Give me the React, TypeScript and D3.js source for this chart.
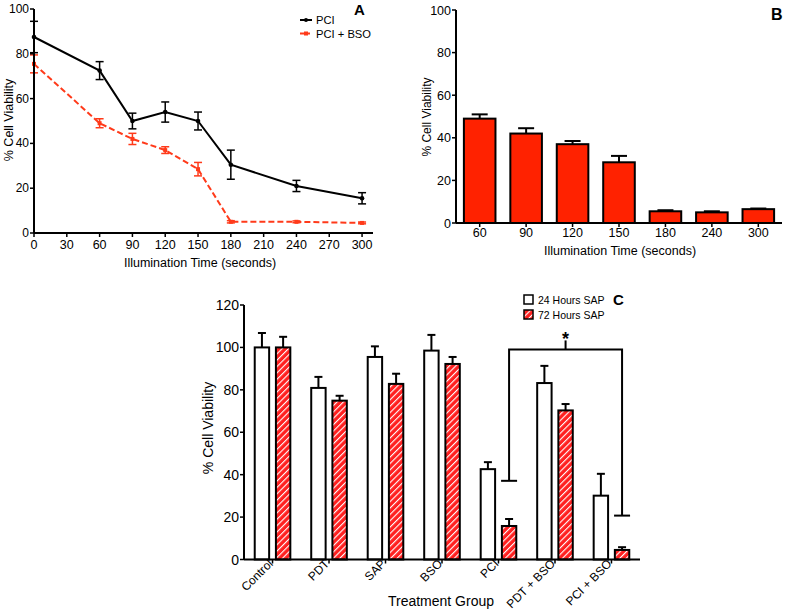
import React from 'react';
import { scaleLinear, scaleBand, line } from 'd3';

// Panel A: viability vs illumination time
const timesA = [0, 60, 90, 120, 150, 180, 240, 300];
const pciMean = [87.5, 72.5, 50, 54, 50, 30.5, 21, 15.5];
const pciErr = [7, 4, 3.5, 4.5, 4, 6.5, 2.5, 2.5];
const bsoMean = [75.5, 49, 42, 37, 28.5, 5, 5, 4.5];
const bsoErr = [4, 2, 2.5, 1.5, 3, 0.5, 0.4, 0.4];
const ticksAx = [0, 30, 60, 90, 120, 150, 180, 210, 240, 270, 300];
const ticksAy = [0, 20, 40, 60, 80, 100];

// Panel B: PCI + BSO bars
const catsB = ['60', '90', '120', '150', '180', '240', '300'];
const valsB = [49, 42, 37, 28.5, 5.5, 5, 6.5];
const errB = [2, 2.5, 1.5, 3, 0.5, 0.5, 0.3];

// Panel C: treatment groups
const groupsC = ['Control', 'PDT', 'SAP', 'BSO', 'PCI', 'PDT + BSO', 'PCI + BSO'];
const h24 = [100, 80.9, 95.5, 98.5, 42.6, 83.2, 30.1];
const h24Err = [6.8, 5.2, 5, 7.4, 3.3, 8.1, 10.3];
const h72 = [100, 74.9, 82.8, 92.2, 15.8, 70.3, 4.5];
const h72Err = [5, 2.3, 4.8, 3.3, 3.3, 3, 1.3];
const ticksCy = [0, 20, 40, 60, 80, 100, 120];
// significance bracket levels (in % units)
const bracketTop = 99;
const bracketLeft = 37.1;
const bracketRight = 20.7;
const bracketMark = 103.3;

const FONT = '"Liberation Sans", Arial, Helvetica, sans-serif';
const RED_A = '#ff3a1a';
const RED_B = '#ff2200';
const RED_C = '#ff2020';

function PanelA() {
  const x = scaleLinear().domain([0, 310]).range([34, 373]);
  const y = scaleLinear().domain([0, 100]).range([233, 9]);
  const mk = line<number>().x((_, i) => x(timesA[i])).y(d => y(d));
  const errBars = (means: number[], errs: number[], color: string) =>
    means.map((m, i) => (
      <g key={i} stroke={color} strokeWidth={1.5}>
        <line x1={x(timesA[i])} x2={x(timesA[i])} y1={y(m - errs[i])} y2={y(m + errs[i])} />
        <line x1={x(timesA[i]) - 4} x2={x(timesA[i]) + 4} y1={y(m + errs[i])} y2={y(m + errs[i])} />
        <line x1={x(timesA[i]) - 4} x2={x(timesA[i]) + 4} y1={y(m - errs[i])} y2={y(m - errs[i])} />
      </g>
    ));
  return (
    <g fontFamily={FONT}>
      <path d={mk(bsoMean) || ''} fill="none" stroke={RED_A} strokeWidth={2} strokeDasharray="6,3" />
      {errBars(bsoMean, bsoErr, RED_A)}
      {bsoMean.map((m, i) => (
        <rect key={i} x={x(timesA[i]) - 2} y={y(m) - 2} width={4} height={4} fill={RED_A} />
      ))}
      <path d={mk(pciMean) || ''} fill="none" stroke="#000" strokeWidth={2} />
      {errBars(pciMean, pciErr, '#000')}
      {pciMean.map((m, i) => (
        <circle key={i} cx={x(timesA[i])} cy={y(m)} r={2.3} fill="#000" />
      ))}
      {/* axes */}
      <line x1={x(0)} x2={x(0)} y1={y(0)} y2={y(100)} stroke="#000" strokeWidth={2} />
      <line x1={x(0)} x2={373} y1={y(0)} y2={y(0)} stroke="#000" strokeWidth={2} />
      {ticksAy.map(t => (
        <g key={t}>
          <line x1={x(0) - 4} x2={x(0)} y1={y(t)} y2={y(t)} stroke="#000" strokeWidth={1.5} />
          <text x={x(0) - 5} y={y(t) + 4} fontSize={12} textAnchor="end">{t}</text>
        </g>
      ))}
      {ticksAx.map(t => (
        <g key={t}>
          <line x1={x(t)} x2={x(t)} y1={y(0)} y2={y(0) + 4} stroke="#000" strokeWidth={1.5} />
          <text x={x(t)} y={249} fontSize={12.5} textAnchor="middle">{t}</text>
        </g>
      ))}
      <text x={200} y={267} fontSize={12.5} textAnchor="middle">Illumination Time (seconds)</text>
      <text transform="translate(13,120) rotate(-90)" fontSize={12.5} textAnchor="middle">% Cell Viability</text>
      {/* legend */}
      <line x1={300} x2={312} y1={20} y2={20} stroke="#000" strokeWidth={2} />
      <circle cx={306} cy={20} r={2} fill="#000" />
      <text x={316} y={24} fontSize={11.2}>PCI</text>
      <line x1={300} x2={312} y1={33.5} y2={33.5} stroke={RED_A} strokeWidth={2} strokeDasharray="4,2" />
      <rect x={304} y={31.5} width={4} height={4} fill={RED_A} />
      <text x={316} y={37.5} fontSize={11.2}>PCI + BSO</text>
      <text x={354} y={15} fontSize={15} fontWeight="bold">A</text>
    </g>
  );
}

function PanelB() {
  const x = scaleBand<string>().domain(catsB).range([456, 782]).paddingInner(0.32).paddingOuter(0.17);
  const y = scaleLinear().domain([0, 100]).range([223, 10]);
  return (
    <g fontFamily={FONT}>
      {catsB.map((c, i) => {
        const cx = (x(c) || 0) + x.bandwidth() / 2;
        return (
          <g key={c}>
            <line x1={cx} x2={cx} y1={y(valsB[i])} y2={y(valsB[i] + errB[i])} stroke="#000" strokeWidth={2} />
            <line x1={cx - 8} x2={cx + 8} y1={y(valsB[i] + errB[i])} y2={y(valsB[i] + errB[i])} stroke="#000" strokeWidth={2} />
            <rect x={x(c)} y={y(valsB[i])} width={x.bandwidth()} height={y(0) - y(valsB[i])}
              fill={RED_B} stroke="#000" strokeWidth={2} />
            <line x1={cx} x2={cx} y1={y(0)} y2={y(0) + 4} stroke="#000" strokeWidth={1.5} />
            <text x={cx} y={237} fontSize={12.5} textAnchor="middle">{c}</text>
          </g>
        );
      })}
      <line x1={456} x2={456} y1={y(0)} y2={y(100)} stroke="#000" strokeWidth={2} />
      <line x1={456} x2={782} y1={y(0)} y2={y(0)} stroke="#000" strokeWidth={2} />
      {ticksAy.map(t => (
        <g key={t}>
          <line x1={452} x2={456} y1={y(t)} y2={y(t)} stroke="#000" strokeWidth={1.5} />
          <text x={451} y={y(t) + 4.5} fontSize={12.5} textAnchor="end">{t}</text>
        </g>
      ))}
      <text x={620} y={255} fontSize={12.5} textAnchor="middle">Illumination Time (seconds)</text>
      <text transform="translate(431,117) rotate(-90)" fontSize={12} textAnchor="middle">% Cell Viability</text>
      <text x={771} y={20} fontSize={16} fontWeight="bold">B</text>
    </g>
  );
}

function PanelC() {
  const x = scaleBand<string>().domain(groupsC).range([244, 640]).paddingInner(0.37).paddingOuter(0.19);
  const sub = scaleBand<string>().domain(['24', '72']).range([0, x.bandwidth()]).paddingInner(0.32);
  const y = scaleLinear().domain([0, 120]).range([559.5, 305]);
  const bar = (g: string, key: string, v: number, e: number, hatched: boolean) => {
    const bx = (x(g) || 0) + (sub(key) || 0);
    const cx = bx + sub.bandwidth() / 2;
    return (
      <g key={g + key}>
        <line x1={cx} x2={cx} y1={y(v)} y2={y(v + e)} stroke="#000" strokeWidth={2} />
        <line x1={cx - 4} x2={cx + 4} y1={y(v + e)} y2={y(v + e)} stroke="#000" strokeWidth={2} />
        <rect x={bx} y={y(v)} width={sub.bandwidth()} height={y(0) - y(v)}
          fill={hatched ? 'url(#hatchC)' : '#fff'} stroke="#000" strokeWidth={2} />
      </g>
    );
  };
  const redCx = (g: string) => (x(g) || 0) + (sub('72') || 0) + sub.bandwidth() / 2;
  const lx = redCx('PCI');
  const rx = redCx('PCI + BSO');
  const mx = (lx + rx) / 2;
  return (
    <g fontFamily={FONT}>
      {groupsC.map((g, i) => (
        <g key={g}>
          {bar(g, '24', h24[i], h24Err[i], false)}
          {bar(g, '72', h72[i], h72Err[i], true)}
        </g>
      ))}
      <line x1={244} x2={244} y1={y(0)} y2={y(120)} stroke="#000" strokeWidth={2} />
      <line x1={244} x2={640} y1={y(0)} y2={y(0)} stroke="#000" strokeWidth={2} />
      {ticksCy.map(t => (
        <g key={t}>
          <line x1={240} x2={244} y1={y(t)} y2={y(t)} stroke="#000" strokeWidth={1.5} />
          <text x={239} y={y(t) + 5} fontSize={14} textAnchor="end">{t}</text>
        </g>
      ))}
      {groupsC.map(g => {
        const cx = (x(g) || 0) + x.bandwidth() / 2;
        return (
          <g key={g}>
            <line x1={cx} x2={cx} y1={y(0)} y2={y(0) + 4} stroke="#000" strokeWidth={1.5} />
            <text transform={`translate(${cx + 1},${y(0) + 5}) rotate(-45)`} fontSize={12} textAnchor="end">{g}</text>
          </g>
        );
      })}
      <text x={441} y={606} fontSize={14} textAnchor="middle">Treatment Group</text>
      <text transform="translate(213,428) rotate(-90)" fontSize={14} textAnchor="middle">% Cell Viability</text>
      {/* significance bracket */}
      <g stroke="#000" strokeWidth={2} fill="none">
        <polyline points={`${lx},${y(bracketLeft)} ${lx},${y(bracketTop)} ${rx},${y(bracketTop)} ${rx},${y(bracketRight)}`} />
        <line x1={lx - 8} x2={lx + 8} y1={y(bracketLeft)} y2={y(bracketLeft)} />
        <line x1={rx - 8} x2={rx + 8} y1={y(bracketRight)} y2={y(bracketRight)} />
        <line x1={mx} x2={mx} y1={y(bracketTop)} y2={y(bracketMark)} />
      </g>
      <text x={mx} y={345} fontSize={18} fontWeight="bold" textAnchor="middle">*</text>
      {/* legend */}
      <rect x={524} y={295} width={9} height={9} fill="#fff" stroke="#000" strokeWidth={1.5} />
      <text x={538} y={303.5} fontSize={10.5}>24 Hours SAP</text>
      <rect x={524} y={310} width={9} height={9} fill="url(#hatchC)" stroke="#000" strokeWidth={1.5} />
      <text x={538} y={318.5} fontSize={10.5}>72 Hours SAP</text>
      <text x={613} y={305} fontSize={15} fontWeight="bold">C</text>
    </g>
  );
}

export default function App() {
  return (
    <svg width={787} height={613} style={{ display: 'block', position: 'absolute', left: 0, top: 0 }}>
      <defs>
        <pattern id="hatchC" width={4.5} height={4.5} patternUnits="userSpaceOnUse" patternTransform="rotate(45)">
          <rect width={4.5} height={4.5} fill={RED_C} />
          <line x1={0} y1={0} x2={0} y2={4.5} stroke="#fff" strokeWidth={2.2} />
        </pattern>
      </defs>
      <rect width={787} height={613} fill="#fff" />
      <PanelA />
      <PanelB />
      <PanelC />
    </svg>
  );
}
